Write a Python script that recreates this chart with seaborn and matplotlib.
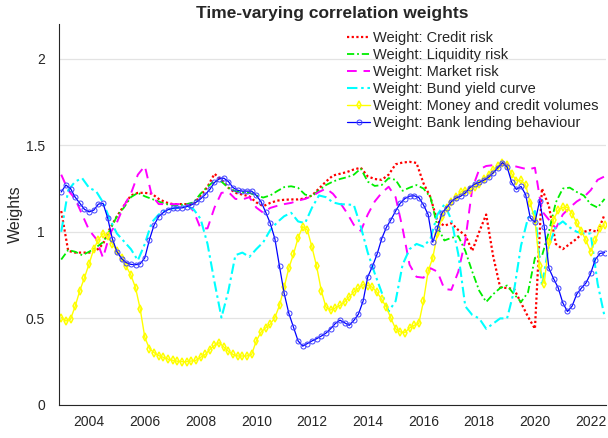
import numpy as np
import pandas as pd
import matplotlib
matplotlib.use("Agg")
import matplotlib.pyplot as plt
import seaborn as sns

# ---- data -------------------------------------------------------------
# quarterly observations, 2003Q1 .. 2022Q3
quarter_dates = 2003 + np.arange(79) * 0.25
# bi-monthly observations, Jan 2003 .. Jul 2022
bimonth_dates = 2003 + np.arange(118) * 2 / 12

credit_risk = [
    1.12, 0.89, 0.88, 0.88,
    0.88, 0.89, 0.93, 1.02,
    1.09, 1.15, 1.21, 1.225,
    1.225, 1.22, 1.19, 1.17,
    1.16, 1.16, 1.16, 1.16,
    1.21, 1.26, 1.335, 1.30,
    1.254, 1.225, 1.215, 1.205,
    1.17, 1.148, 1.167, 1.18,
    1.185, 1.187, 1.187, 1.193,
    1.21, 1.25, 1.29, 1.325,
    1.335, 1.345, 1.36, 1.37,
    1.32, 1.305, 1.30, 1.33,
    1.39, 1.40, 1.404, 1.398,
    1.28, 1.20, 1.06, 1.035,
    1.05, 1.01, 0.98, 0.89,
    1.00, 1.10, 0.86, 0.68,
    0.675, 0.67, 0.59, 0.51,
    0.44, 1.25, 1.15, 0.93,
    0.90, 0.93, 0.96, 1.00,
    1.01, 1.00, 1.10,
]

liquidity_risk = [
    0.84, 0.895, 0.885, 0.865,
    0.885, 0.91, 0.94, 1.01,
    1.09, 1.14, 1.20, 1.225,
    1.205, 1.19, 1.175, 1.16,
    1.155, 1.155, 1.16, 1.17,
    1.22, 1.26, 1.295, 1.29,
    1.254, 1.235, 1.228, 1.225,
    1.21, 1.198, 1.21, 1.235,
    1.258, 1.263, 1.254, 1.215,
    1.205, 1.24, 1.27, 1.29,
    1.305, 1.315, 1.33, 1.365,
    1.29, 1.265, 1.27, 1.31,
    1.30, 1.237, 1.255, 1.27,
    1.25, 1.20, 1.03, 0.95,
    0.965, 0.975, 0.89, 0.77,
    0.66, 0.595, 0.64, 0.675,
    0.69, 0.64, 0.595, 0.65,
    0.85, 0.86, 1.00, 1.17,
    1.25, 1.255, 1.23, 1.21,
    1.16, 1.14, 1.19,
]

market_risk = [
    1.33, 1.24, 1.19, 1.10,
    1.01, 0.96, 0.85, 0.99,
    1.055, 1.15, 1.22, 1.33,
    1.38, 1.21, 1.16, 1.16,
    1.16, 1.16, 1.158, 1.12,
    1.02, 1.02, 1.14, 1.225,
    1.23, 1.19, 1.187, 1.20,
    1.14, 1.11, 1.138, 1.15,
    1.16, 1.167, 1.18, 1.19,
    1.206, 1.23, 1.25, 1.22,
    1.17, 1.11, 1.04, 1.005,
    1.10, 1.175, 1.225, 1.26,
    1.20, 1.02, 0.81, 0.74,
    0.735, 0.79, 0.77, 0.67,
    0.665, 0.77, 0.95, 1.25,
    1.36, 1.38, 1.385, 1.39,
    1.39, 1.38, 1.37, 1.36,
    1.37, 1.12, 1.07, 1.02,
    1.10, 1.14, 1.175, 1.20,
    1.24, 1.30, 1.32,
]

bund_yield_curve = [
    1.00, 1.24, 1.29, 1.31,
    1.254, 1.235, 1.17, 1.07,
    0.99, 0.945, 0.90, 0.835,
    0.93, 1.055, 1.10, 1.125,
    1.135, 1.14, 1.15, 1.13,
    1.075, 0.93, 0.71, 0.505,
    0.66, 0.865, 0.88, 0.855,
    0.90, 0.94, 1.01, 1.055,
    1.09, 1.11, 1.06, 1.05,
    1.14, 1.21, 1.20, 1.17,
    1.16, 1.158, 1.155, 1.03,
    0.88, 0.76, 0.65, 0.54,
    0.60, 0.81, 0.90, 0.93,
    0.915, 0.96, 1.10, 1.158,
    1.07, 0.87, 0.57, 0.52,
    0.50, 0.44, 0.47, 0.50,
    0.50, 0.66, 0.92, 1.08,
    1.12, 0.69, 0.92, 1.03,
    1.06, 1.025, 1.00, 0.99,
    0.99, 0.70, 0.51,
]

money_credit_volumes = [
    0.505, 0.485, 0.495, 0.57, 0.66, 0.735,
    0.815, 0.90, 0.955, 0.99, 0.975, 0.93,
    0.89, 0.85, 0.80, 0.75, 0.677, 0.555,
    0.39, 0.325, 0.302, 0.285, 0.275, 0.265,
    0.258, 0.253, 0.25, 0.25, 0.254, 0.258,
    0.275, 0.292, 0.32, 0.345, 0.36, 0.335,
    0.31, 0.292, 0.283, 0.283, 0.283, 0.292,
    0.37, 0.42, 0.445, 0.467, 0.505, 0.575,
    0.68, 0.79, 0.87, 0.965, 1.03, 1.01,
    0.91, 0.80, 0.66, 0.565, 0.548, 0.56,
    0.575, 0.595, 0.625, 0.652, 0.675, 0.695,
    0.69, 0.68, 0.65, 0.61, 0.565, 0.50,
    0.44, 0.422, 0.418, 0.445, 0.46, 0.472,
    0.60, 0.773, 0.85, 0.99, 1.085, 1.14,
    1.17, 1.20, 1.23, 1.238, 1.242, 1.26,
    1.278, 1.305, 1.33, 1.358, 1.38, 1.398,
    1.385, 1.335, 1.295, 1.298, 1.27, 1.165,
    1.07, 0.80, 0.70, 0.94, 1.07, 1.125,
    1.142, 1.14, 1.105, 1.05, 1.004, 0.95,
    0.885, 0.95, 1.02, 1.04,
]

bank_lending = [
    1.23, 1.27, 1.25, 1.20, 1.165, 1.13,
    1.115, 1.125, 1.16, 1.165, 1.08, 0.96,
    0.885, 0.845, 0.822, 0.812, 0.81, 0.815,
    0.85, 0.955, 1.04, 1.088, 1.112, 1.128,
    1.136, 1.138, 1.138, 1.145, 1.155, 1.17,
    1.19, 1.215, 1.245, 1.285, 1.305, 1.31,
    1.29, 1.255, 1.24, 1.235, 1.235, 1.235,
    1.21, 1.175, 1.115, 1.05, 0.96, 0.80,
    0.645, 0.53, 0.45, 0.37, 0.34, 0.355,
    0.37, 0.383, 0.398, 0.415, 0.44, 0.47,
    0.49, 0.475, 0.46, 0.488, 0.525, 0.60,
    0.74, 0.80, 0.87, 0.96, 1.025, 1.07,
    1.12, 1.165, 1.192, 1.206, 1.208, 1.198,
    1.155, 1.10, 0.94, 1.02, 1.11, 1.14,
    1.175, 1.195, 1.205, 1.225, 1.255, 1.275,
    1.285, 1.298, 1.315, 1.34, 1.37, 1.40,
    1.375, 1.285, 1.245, 1.262, 1.215, 1.08,
    1.055, 1.178, 1.03, 0.79, 0.73, 0.677,
    0.59, 0.54, 0.571, 0.64, 0.675, 0.705,
    0.76, 0.84, 0.875, 0.88,
]

labels = [
    "Weight: Credit risk",
    "Weight: Liquidity risk",
    "Weight: Market risk",
    "Weight: Bund yield curve",
    "Weight: Money and credit volumes",
    "Weight: Bank lending behaviour",
]

x_ticks = [2004, 2006, 2008, 2010, 2012, 2014, 2016, 2018, 2020, 2022]
x_tick_labels = ["2004", "2006", "2008", "2010", "2012", "2014",
                 "2016", "2018", "2020", "2022"]
y_ticks = [0, 0.5, 1, 1.5, 2]
y_tick_labels = ["0", "0.5", "1", "1.5", "2"]

# ---- figure -----------------------------------------------------------
sns.set_style("white")
plt.rcParams["font.family"] = ["Liberation Sans", "DejaVu Sans"]

fig = plt.figure(figsize=(6.08, 4.38), dpi=100)
ax = fig.add_axes([59 / 608, 33 / 438, 547 / 608, 381 / 438])

styles = [
    (quarter_dates, credit_risk, "#ff0000",
     dict(linestyle=(0, (1, 1.1)), linewidth=1.6)),
    (quarter_dates, liquidity_risk, "#00ee00",
     dict(linestyle=(0, (4, 1.6, 1, 1.6)), linewidth=1.3)),
    (quarter_dates, market_risk, "#ff00ff",
     dict(linestyle=(0, (5, 3.5)), linewidth=1.4)),
    (quarter_dates, bund_yield_curve, "#00ffff",
     dict(linestyle=(0, (5, 1.8, 1.2, 1.8)), linewidth=1.5)),
    (bimonth_dates, money_credit_volumes, "#ffff00",
     dict(linestyle="-", linewidth=1.0, marker="d", markersize=4.2,
          markerfacecolor="none", markeredgecolor="#ffff00",
          markeredgewidth=1.1)),
    (bimonth_dates, bank_lending, "#0000ff",
     dict(linestyle="-", linewidth=0.9, marker="o", markersize=3.6,
          markerfacecolor="none", markeredgecolor="#4040ff",
          markeredgewidth=0.7)),
]

for (dates, values, color, kw), label in zip(styles, labels):
    frame = pd.DataFrame({"date": dates, "weight": values})
    sns.lineplot(data=frame, x="date", y="weight", ax=ax, color=color,
                 label=label, **kw)

ax.set_xlim(2002.92, 2022.55)
ax.set_ylim(0, 2.2)
ax.set_xticks(x_ticks)
ax.set_xticklabels(x_tick_labels)
ax.set_xticks(np.arange(2003, 2023), minor=True)
ax.set_yticks(y_ticks)
ax.set_yticklabels(y_tick_labels)

ax.grid(axis="y", color="#e3e3e3", linewidth=0.9)
ax.set_axisbelow(True)
for side in ("top", "right"):
    ax.spines[side].set_visible(False)
for side in ("left", "bottom"):
    ax.spines[side].set_color("#262626")
    ax.spines[side].set_linewidth(0.8)

ax.tick_params(axis="both", which="major", direction="out", length=4,
               width=0.8, color="#262626", labelsize=10,
               labelcolor="#262626")
ax.tick_params(axis="x", which="major", pad=3)
ax.tick_params(axis="y", which="major", pad=6)
ax.tick_params(axis="x", which="minor", direction="out", length=2.5,
               width=0.8, color="#262626")

ax.set_xlabel("")
ax.set_ylabel("Weights", fontsize=11.5, color="#262626", labelpad=2)
ax.set_title("Time-varying correlation weights", fontsize=12.5,
             fontweight="bold", pad=4)

leg = ax.legend(loc="upper right", frameon=False, fontsize=10.5,
                handlelength=1.6, handletextpad=0.2, labelspacing=0.2,
                borderaxespad=0.3, borderpad=0.2, numpoints=1)

fig.savefig("out.png", dpi=100)
